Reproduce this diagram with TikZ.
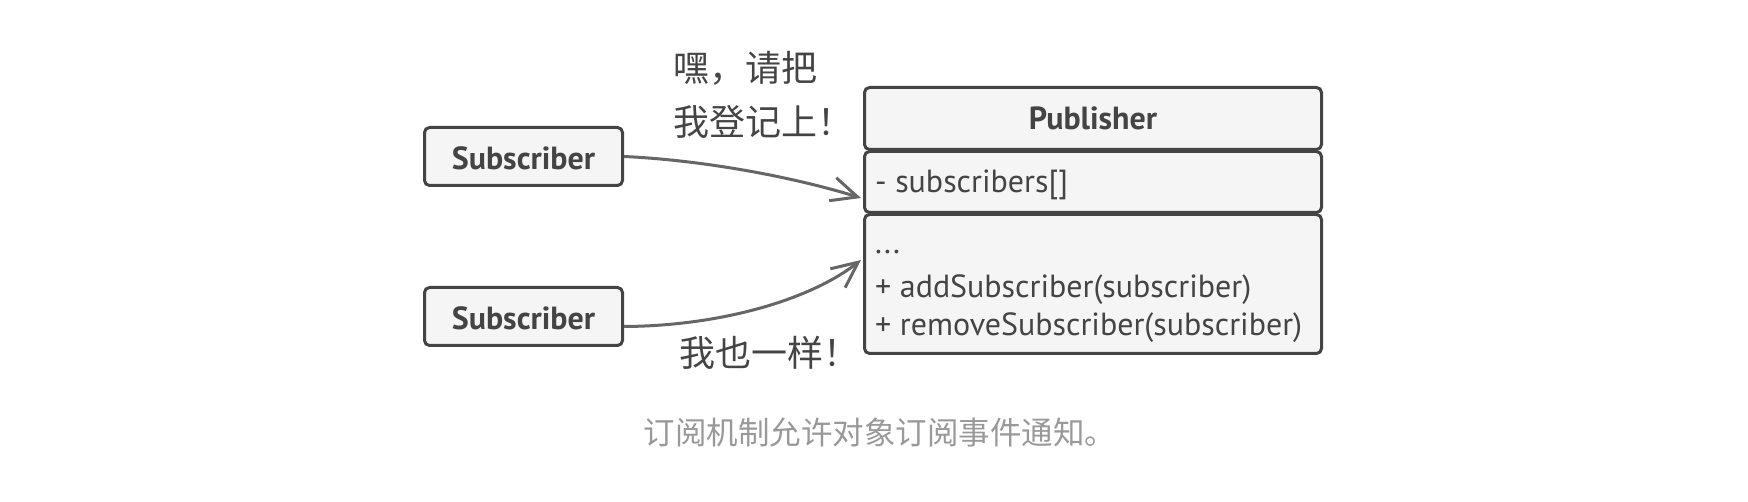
\documentclass[tikz,border=0pt]{standalone}
\usepackage{fontspec}
\setmainfont{PT Sans}
\newfontfamily\cjk{Noto Sans CJK SC}
\usetikzlibrary{arrows.meta}
\definecolor{bd}{HTML}{444444}
\definecolor{ar}{HTML}{666666}
\definecolor{fl}{HTML}{F5F5F5}
\definecolor{capc}{HTML}{999999}
\begin{document}
\begin{tikzpicture}[x=1pt,y=-1pt,
  box/.style={draw=bd,line width=3pt,fill=fl,rounded corners=5pt,inner sep=0pt},
  boldtxt/.style={font=\bfseries\fontsize{32}{36}\selectfont,text=bd},
  member/.style={font=\fontsize{32}{36}\selectfont,text=bd,inner sep=0pt,anchor=west},
  cn/.style={font=\cjk\fontsize{36}{42}\selectfont,text=bd,inner sep=0pt,anchor=west},
  conn/.style={draw=ar,line width=3pt,-{Straight Barb[length=26pt,width=24pt,line width=3pt]}}]
\useasboundingbox (0,0) rectangle (1748,502);
% subscribers
\node[box,boldtxt,minimum width=198pt,minimum height=58pt,text height=28pt,text depth=1pt] (s1) at (523.5,156.5) {Subscriber};
\node[box,boldtxt,minimum width=198pt,minimum height=58pt,text height=28pt,text depth=1pt] (s2) at (523.5,316.5) {Subscriber};
% publisher
\node[box,boldtxt,minimum width=457pt,minimum height=62pt] (pub) at (1093,118.5) {Publisher};
\node[box,minimum width=457pt,minimum height=61pt] (attr) at (1093,182) {};
\node[box,minimum width=457pt,minimum height=139pt] (meth) at (1093,284) {};
\node[member] (a1) at (875,185) {- subscribers[]};
\node[member] (m0) at (875,252) {...};
\node[member] (m1) at (875,290) {+ addSubscriber(subscriber)};
\node[member] (m2) at (875,328) {+ removeSubscriber(subscriber)};
% connectors
\coordinate (t1) at (861,198);
\coordinate (t2) at (861,260);
\draw[conn] (s1.east) .. controls (700,160) and (790,176) .. (t1);
\draw[conn] ([yshift=-10pt]s2.east) .. controls (720,326) and (810,300) .. (t2);
% labels
\node[cn] (l1) at (673,68) {嘿，请把};
\node[cn] (l2) at (673,122) {我登记上！};
\node[cn] (l3) at (679,353) {我也一样！};
\node[font=\cjk\fontsize{31.5}{36}\selectfont,text=capc,inner sep=0pt] (cap) at (880,432) {订阅机制允许对象订阅事件通知。};
\end{tikzpicture}
\end{document}
